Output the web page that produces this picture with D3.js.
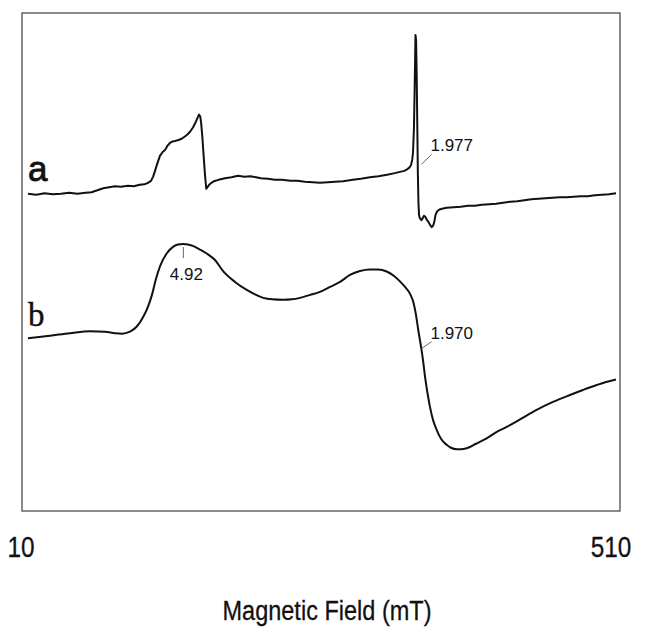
<!DOCTYPE html>
<html>
<head>
<meta charset="utf-8">
<script src="https://cdn.jsdelivr.net/npm/d3@7"></script>
<style>
  html, body { margin: 0; padding: 0; background: #fff; }
  svg { display: block; }
</style>
</head>
<body>
<div id="chart"></div>
<script>
// EPR spectra: magnetic field (mT) vs. derivative signal (arbitrary units)
const fieldRange = [10, 510];
const tickLabels = ["10", "510"];
const axisTitle = "Magnetic Field (mT)";

// Spectrum a: field values (mT)
const fieldA = [
  10, 17, 24, 31, 38, 45, 52, 59, 64, 69, 74, 79, 84, 89, 95, 100, 105, 109, 112, 114.6,
  116.5, 118, 120, 122.2, 124.5, 126.5, 128.5, 130.7, 133, 135, 138, 141, 144, 146, 148.5,
  150.3, 152, 153.5, 155.4, 156.5, 157.2, 158.3, 159.3, 160.5, 161.6, 162.5, 164, 166, 168,
  172, 177.5, 183, 188.6, 194, 199, 204, 208, 214, 220, 226, 233, 239, 245.5, 252, 258.3,
  265, 271, 278, 286.3, 293, 300.8, 308, 315.3, 321, 326.3, 330, 332.3, 334.5, 335.7, 336.7,
  337.4, 338.2, 338.8, 339.5, 340.0, 340.5, 341.0, 341.5, 342.0, 342.5, 343.2, 344.5, 345.7,
  346.7, 347.8, 349.0, 350.4, 352.0, 353.3, 354.5, 355.6, 356.6, 358.0, 359.5, 362, 366, 372,
  378, 384, 390, 396, 402, 408, 414, 420, 426, 432, 438, 444, 450, 456, 462, 468, 474, 480,
  486, 492, 498, 504, 510
];
// Spectrum a: signal (a.u.)
const signalA = [
  63.7, 63.5, 63.8, 63.6, 63.7, 63.9, 63.7, 63.9, 64.0, 64.4, 64.8, 65.0, 65.2, 65.1, 65.3, 65.2, 65.5, 65.6, 65.9, 66.3,
  67.2, 68.3, 69.8, 71.3, 72.1, 72.5, 73.3, 73.9, 74.2, 74.3, 74.5, 74.8, 75.3, 75.7, 76.4,
  77.0, 77.8, 78.6, 79.6, 79.2, 78.0, 75.0, 71.5, 67.5, 64.7, 65.0, 65.5, 65.9, 66.2,
  66.5, 66.8, 67.0, 67.3, 67.1, 67.2, 67.0, 66.8, 66.7, 66.5, 66.5, 66.3, 66.3, 66.1, 66.0, 65.9,
  66.0, 66.1, 66.2, 66.5, 66.7, 67.0, 67.2, 67.5, 67.8, 68.1, 68.3, 68.6, 69.0, 69.5, 70.5,
  72.0, 77.0, 85.0, 95.6, 94.5, 88.0, 78.0, 68.0, 62.0, 59.5, 58.8, 58.4, 58.8,
  59.3, 59.1, 58.5, 58.1, 57.4, 57.0, 57.3, 58.2, 59.5, 60.2, 60.5, 60.7, 60.9, 61.0,
  61.1, 61.3, 61.3, 61.5, 61.6, 61.7, 61.9, 62.1, 62.2, 62.4, 62.6, 62.7, 62.8, 62.9, 63.0, 63.0, 63.1, 63.2,
  63.2, 63.4, 63.5, 63.6, 63.8
];

// Spectrum b: field values (mT)
const fieldB = [
  10, 28.7, 45.7, 62.7, 75.5, 84.0, 89.9, 96.7, 102.7, 107.8, 112.3, 115.4, 118.8, 122.2,
  127.9, 133.6, 137.5, 142.1, 146.0, 150.6, 156.3, 162.0, 169.0, 176.1, 186.0, 196.0, 203.0,
  210.1, 217.5, 227.1, 234.5, 241.3, 249.8, 258.3, 266.8, 275.3, 283.8, 292.3, 300.8, 307.6,
  315.0, 321.3, 326.3, 330.6, 334.9, 337.6, 339.9, 341.9, 344.2, 345.9, 347.6, 349.7, 351.8,
  354.4, 357.5, 361.2, 366.0, 369.7, 374.6, 378.2, 383.0, 390.9, 400.0, 407.9, 417.1, 428.4,
  442.5, 456.4, 470.9, 481.9, 493.6, 501.5, 510
];
// Spectrum b: signal (a.u.)
const signalB = [
  34.7, 35.2, 35.7, 36.1, 36.0, 35.7, 35.6, 36.0, 37.1, 38.9, 41.2, 43.4, 46.6, 49.1,
  51.7, 53.1, 53.5, 53.6, 53.5, 53.2, 52.5, 51.7, 50.4, 48.1, 46.0, 44.4, 43.5,
  42.8, 42.5, 42.4, 42.5, 42.8, 43.4, 44.0, 45.0, 46.0, 47.4, 48.2, 48.5, 48.5,
  48.1, 47.2, 46.1, 45.0, 43.6, 42.0, 39.4, 36.3, 33.0, 30.3, 27.0, 23.7, 20.9,
  18.3, 16.3, 14.5, 13.3, 12.7, 12.4, 12.4, 12.6, 13.5, 14.6, 15.8, 16.9, 18.4,
  20.3, 21.9, 23.3, 24.3, 25.3, 25.9, 26.4
];

// g-value annotations: text, trace, attachment field (mT) and signal (a.u.)
const gLabels = ["1.977", "4.92", "1.970"];
const gTrace = ["a", "b", "b"];
const gField = [344.6, 142.1, 344.6];
const gSignal = [69.6, 53.6, 32.6];

// Trace names and the signal level they are printed at
const traceNames = ["a", "b"];
const traceNameSignal = [66.3, 37.1];

const W = 646, H = 631;
const frame = { left: 22, top: 13, right: 620, bottom: 511 };

const svg = d3.select("#chart").append("svg")
  .attr("width", W).attr("height", H);

const x = d3.scaleLinear().domain(fieldRange).range([28, 616]);
const y = d3.scaleLinear().domain([0, 100]).range([frame.bottom, frame.top]);

// frame
svg.append("rect")
  .attr("x", frame.left).attr("y", frame.top)
  .attr("width", frame.right - frame.left)
  .attr("height", frame.bottom - frame.top)
  .attr("fill", "none")
  .attr("stroke", "#5a5a5a")
  .attr("stroke-width", 1.4);

const seriesA = fieldA.map((f, i) => [f, signalA[i]]);
const seriesB = fieldB.map((f, i) => [f, signalB[i]]);

svg.append("path")
  .datum(seriesA)
  .attr("fill", "none")
  .attr("stroke", "#111")
  .attr("stroke-width", 2)
  .attr("stroke-linejoin", "round")
  .attr("d", d3.line().x(d => x(d[0])).y(d => y(d[1])));

svg.append("path")
  .datum(seriesB)
  .attr("fill", "none")
  .attr("stroke", "#111")
  .attr("stroke-width", 2)
  .attr("d", d3.line().curve(d3.curveMonotoneX).x(d => x(d[0])).y(d => y(d[1])));

// trace names
svg.append("text")
  .attr("x", x(fieldRange[0])).attr("y", y(traceNameSignal[0]))
  .attr("font-family", "'Liberation Sans', Arial, Helvetica, sans-serif")
  .attr("font-size", 35)
  .attr("fill", "#111")
  .attr("stroke", "#111")
  .attr("stroke-width", 0.8)
  .text(traceNames[0]);

svg.append("text")
  .attr("x", x(fieldRange[0])).attr("y", y(traceNameSignal[1]))
  .attr("font-family", "'Liberation Serif', 'Times New Roman', serif")
  .attr("font-size", 33)
  .attr("fill", "#111")
  .attr("stroke", "#111")
  .attr("stroke-width", 0.4)
  .text(traceNames[1]);

// g-value annotations
const labelFont = "'Liberation Sans', Arial, sans-serif";
gLabels.forEach((lab, i) => {
  const px = x(gField[i]), py = y(gSignal[i]);
  if (lab === "4.92") {
    svg.append("line")
      .attr("x1", px).attr("x2", px)
      .attr("y1", py + 3).attr("y2", py + 14)
      .attr("stroke", "#666").attr("stroke-width", 1);
    svg.append("text")
      .attr("x", px + 3).attr("y", py + 36)
      .attr("text-anchor", "middle")
      .attr("font-family", labelFont).attr("font-size", 17)
      .attr("fill", "#111")
      .text(lab);
  } else {
    const dx = 10, dy = gTrace[i] === "a" ? -10 : -7;
    svg.append("line")
      .attr("x1", px).attr("y1", py)
      .attr("x2", px + dx).attr("y2", py + dy)
      .attr("stroke", "#666").attr("stroke-width", 1);
    svg.append("text")
      .attr("x", px + dx - 1).attr("y", py + dy - 3)
      .attr("font-family", labelFont).attr("font-size", 17)
      .attr("fill", "#111")
      .text(lab);
  }
});

// axis end labels and title (narrow sans)
const narrow = 0.84;
function narrowText(cx, cy, txt, size) {
  svg.append("text")
    .attr("transform", `translate(${cx},${cy}) scale(${narrow},1)`)
    .attr("text-anchor", "middle")
    .attr("font-family", "'Liberation Sans', Arial, sans-serif")
    .attr("font-size", size)
    .attr("fill", "#111")
    .attr("stroke", "#111")
    .attr("stroke-width", 0.3)
    .text(txt);
}
narrowText(x(fieldRange[0]) - 7, 557, tickLabels[0], 29);
narrowText(x(fieldRange[1]) - 5, 557, tickLabels[1], 29);
narrowText((frame.left + frame.right) / 2 + 6, 620, axisTitle, 28);
</script>
</body>
</html>
